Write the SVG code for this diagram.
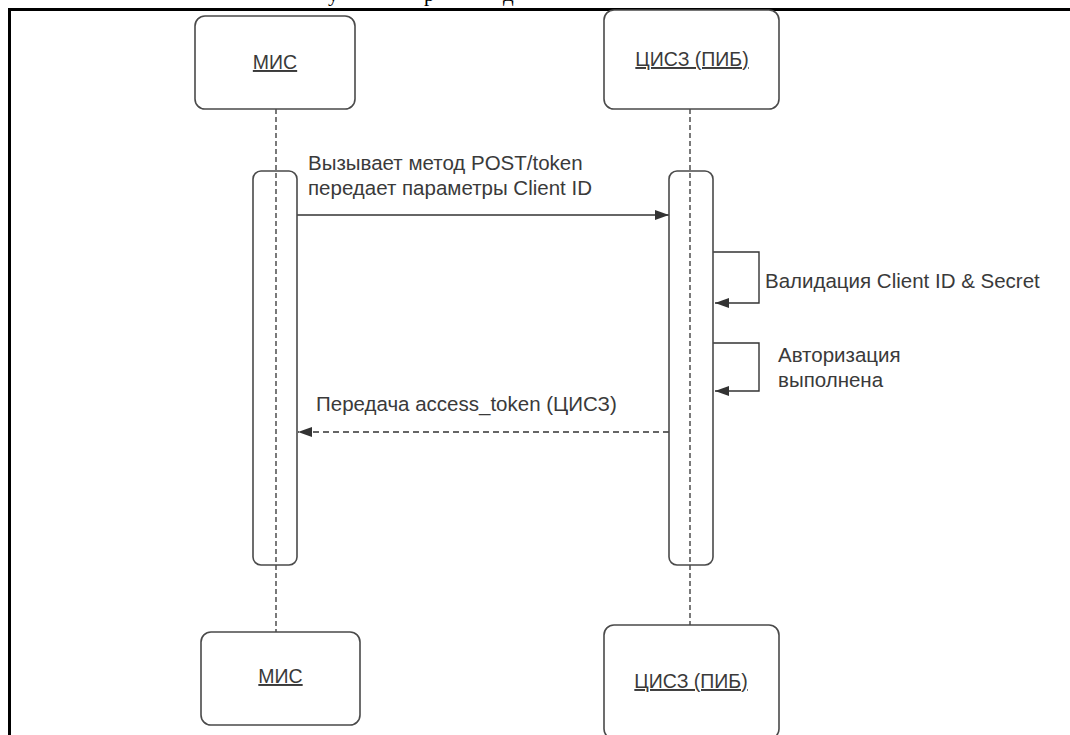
<svg xmlns="http://www.w3.org/2000/svg" width="1070" height="735" viewBox="0 0 1070 735">
<style>
.box{fill:#fff;stroke:#4a4a4a;stroke-width:1.6}
.act{fill:none;stroke:#4a4a4a;stroke-width:1.6}
.lbl{font-family:"Liberation Sans",Arial,sans-serif;font-size:19.5px;fill:#3a3a3a;text-anchor:middle;text-decoration:underline}
.msg{font-family:"Liberation Sans",Arial,sans-serif;font-size:20.5px;fill:#3a3a3a}
.life{fill:none;stroke:#333;stroke-width:1.3;stroke-dasharray:5 3}
.line{fill:none;stroke:#333;stroke-width:1.4}
.dash{fill:none;stroke:#333;stroke-width:1.4;stroke-dasharray:6 4}
.cap{font-family:"Liberation Serif","Times New Roman",serif;font-size:21px;fill:#000}
</style>
<defs>
<marker id="arr" viewBox="0 0 14 10" refX="14" refY="5" markerWidth="14" markerHeight="10" markerUnits="userSpaceOnUse" orient="auto">
<path d="M0,0 L14,5 L0,10 Z" fill="#333"/>
</marker>
</defs>
<rect x="0" y="0" width="1070" height="735" fill="#fff"/>
<g id="caption">
<text class="cap" x="328" y="1">у</text>
<text class="cap" x="424" y="1">р</text>
<text class="cap" x="503" y="1">д</text>
</g>
<path d="M9.5,740 V9.5 H1075" fill="none" stroke="#000" stroke-width="3"/>
<g id="connectors">
<line class="life" x1="276" y1="109" x2="276" y2="632"/>
<line class="life" x1="690" y1="109" x2="690" y2="625"/>
<line class="line" x1="297" y1="215" x2="669" y2="215" marker-end="url(#arr)"/>
<path class="line" d="M713,252 H759 V303 H715" marker-end="url(#arr)"/>
<path class="line" d="M713,343 H759 V391 H715" marker-end="url(#arr)"/>
<line class="dash" x1="669" y1="432" x2="298" y2="432" marker-end="url(#arr)"/>
<text class="msg" x="308" y="170">Вызывает метод POST/token</text>
<text class="msg" x="308" y="195">передает параметры Client ID</text>
<text class="msg" x="765" y="288">Валидация Client ID &amp; Secret</text>
<text class="msg" x="778" y="362">Авторизация</text>
<text class="msg" x="778" y="387">выполнена</text>
<text class="msg" x="316" y="411">Передача access_token (ЦИСЗ)</text>
</g>
<g id="mis-top">
<rect class="box" x="195" y="16" width="160" height="93" rx="10"/>
<text class="lbl" x="275" y="69">МИС</text>
</g>
<g id="cisz-top">
<rect class="box" x="604" y="10" width="175" height="99" rx="10"/>
<text class="lbl" x="692" y="66">ЦИСЗ (ПИБ)</text>
</g>
<g id="mis-activation">
<rect class="act" x="253" y="171" width="44" height="394" rx="8"/>
</g>
<g id="cisz-activation">
<rect class="act" x="669" y="171" width="44" height="394" rx="8"/>
</g>
<g id="mis-bottom">
<rect class="box" x="201" y="632" width="159" height="93" rx="10"/>
<text class="lbl" x="280.5" y="683">МИС</text>
</g>
<g id="cisz-bottom">
<rect class="box" x="604" y="625" width="175" height="114" rx="10"/>
<text class="lbl" x="691" y="688">ЦИСЗ (ПИБ)</text>
</g>
</svg>
